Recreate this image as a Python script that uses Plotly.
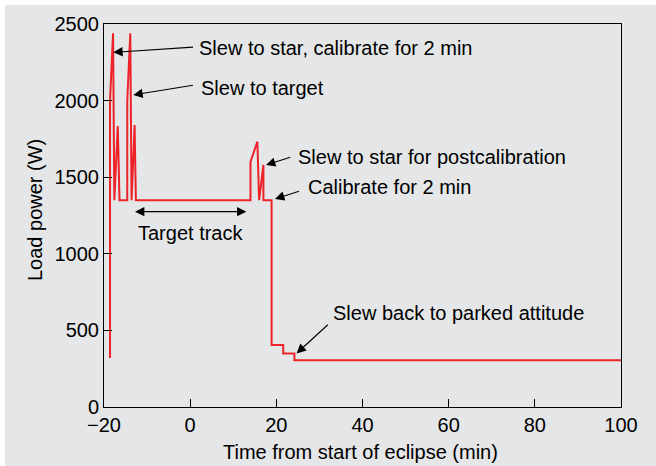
import plotly.graph_objects as go

# Load power profile during the eclipse observation sequence
time_min = [-18.6, -18.6, -17.9, -17.6, -16.8, -16.4, -14.6, -14.6, -13.9, -13.6,
            -12.9, -12.6, 14.0, 14.0, 15.6, 16.0, 17.0, 17.0, 18.9, 18.9,
            21.6, 21.6, 24.2, 24.2, 100.0]
load_w = [320, 2000, 2440, 1350, 1834, 1350, 1350, 2000, 2440, 1350,
          1840, 1350, 1350, 1600, 1732, 1350, 1580, 1350, 1350, 405,
          405, 350, 350, 305, 305]

x_ticks = [-20, 0, 20, 40, 60, 80, 100]
x_tick_text = ["\u221220", "0", "20", "40", "60", "80", "100"]
y_ticks = [0, 500, 1000, 1500, 2000, 2500]

x_title = "Time from start of eclipse (min)"
y_title = "Load power (W)"

# Callouts: label, text anchor (t, W), arrow head (t, W), arrow tail (t, W)
callout_text = ["Slew to star, calibrate for 2 min", "Slew to target",
                "Slew to star for postcalibration", "Calibrate for 2 min",
                "Slew back to parked attitude"]
callout_pos = [(1.6, 2343), (2.1, 2082), (24.5, 1632), (26.9, 1436), (32.7, 614)]
callout_head = [(-17.84, 2315), (-13.2, 2037), (17.6, 1580), (19.7, 1358), (24.7, 350)]
callout_tail = [(1.0, 2350), (1.0, 2102), (23.6, 1634), (25.6, 1412), (32.3, 546)]

track_label = "Target track"
track_span = (-12.8, 13.4)
track_level = 1275
track_label_pos = (0.0, 1135)

GRAY = "#e5e6e8"
RED = "#ee2229"
FONT = "Liberation Sans, Arial, sans-serif"
FS = 20

fig = go.Figure()
fig.add_trace(go.Scatter(x=time_min, y=load_w, mode="lines",
                         line=dict(color=RED, width=2), hoverinfo="skip"))

annotations = []
for text, (tx, ty), (hx, hy), (ax, ay) in zip(callout_text, callout_pos, callout_head, callout_tail):
    annotations.append(dict(x=hx, y=hy, ax=ax, ay=ay, xref="x", yref="y",
                            axref="x", ayref="y", text="", showarrow=True,
                            arrowhead=2, arrowsize=1.7, arrowwidth=1.1,
                            arrowcolor="black"))
    annotations.append(dict(x=tx, y=ty, xref="x", yref="y", text=text,
                            showarrow=False, xanchor="left", yanchor="middle",
                            font=dict(family=FONT, size=FS, color="black")))

# Double-headed arrow spanning the target-track interval
annotations.append(dict(x=track_span[0], y=track_level, ax=track_span[1], ay=track_level,
                        xref="x", yref="y", axref="x", ayref="y", text="",
                        showarrow=True, arrowhead=2, startarrowhead=2, arrowside="end+start",
                        arrowsize=1.7, startarrowsize=1.7, arrowwidth=1.1,
                        arrowcolor="black"))
annotations.append(dict(x=track_label_pos[0], y=track_label_pos[1], xref="x", yref="y",
                        text=track_label, showarrow=False, xanchor="center",
                        yanchor="middle", font=dict(family=FONT, size=FS, color="black")))

# Axis titles placed relative to the plot area
plot_w, plot_h = 517.0, 383.0
annotations.append(dict(x=(360 - 104) / plot_w, y=(407 - 452) / plot_h,
                        xref="paper", yref="paper", text=x_title, showarrow=False,
                        xanchor="center", yanchor="middle",
                        font=dict(family=FONT, size=FS, color="black")))
annotations.append(dict(x=(35 - 104) / plot_w, y=(407 - 210) / plot_h,
                        xref="paper", yref="paper", text=y_title, showarrow=False,
                        textangle=-90, xanchor="center", yanchor="middle",
                        font=dict(family=FONT, size=FS, color="black")))

# Panel background with a thin white strip along the top and left edges
shapes = [dict(type="rect", xref="paper", yref="paper", layer="below",
               x0=(5 - 104) / plot_w, x1=(660 - 104) / plot_w,
               y0=(407 - 470) / plot_h, y1=(407 - 5) / plot_h,
               fillcolor=GRAY, line=dict(width=0))]

axis_common = dict(showline=True, linecolor="black", linewidth=1, mirror=True,
                   ticks="inside", ticklen=8, tickcolor="black", tickwidth=1,
                   showgrid=False, zeroline=False, automargin=False,
                   tickfont=dict(family=FONT, size=FS, color="black"))

fig.update_layout(
    width=656, height=466,
    margin=dict(l=104, r=35, t=24, b=59),
    paper_bgcolor="white", plot_bgcolor=GRAY,
    showlegend=False,
    font=dict(family=FONT, size=FS, color="black"),
    xaxis=dict(range=[-20, 100], tickvals=x_ticks, ticktext=x_tick_text, **axis_common),
    yaxis=dict(range=[0, 2500], tickvals=y_ticks, **axis_common),
    annotations=annotations,
    shapes=shapes,
)

fig.write_html("out.html")
